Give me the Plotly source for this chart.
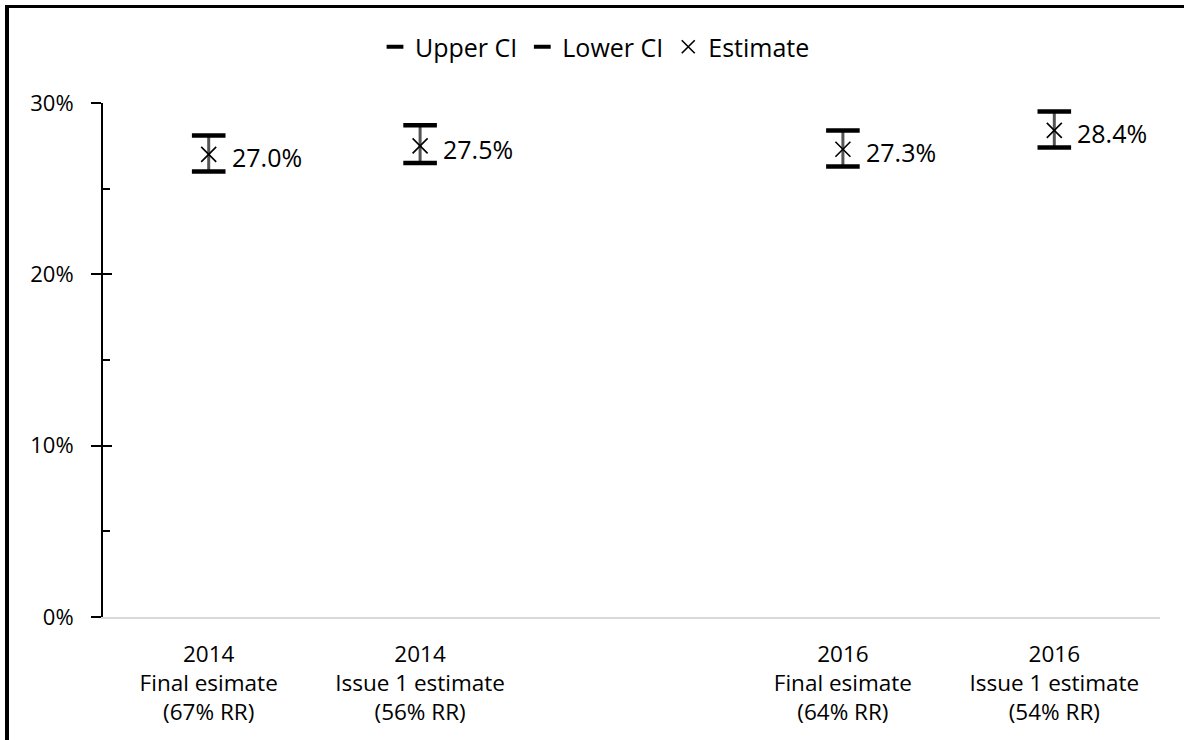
import plotly.graph_objects as go

# Survey estimates with 95% confidence intervals (percent)
categories = [
    "2014<br>Final esimate<br>(67% RR)",
    "2014<br>Issue 1 estimate<br>(56% RR)",
    "",
    "2016<br>Final esimate<br>(64% RR)",
    "2016<br>Issue 1 estimate<br>(54% RR)",
]
estimate = [27.0, 27.5, None, 27.3, 28.4]
upper_ci = [28.1, 28.7, None, 28.4, 29.5]
lower_ci = [26.0, 26.5, None, 26.3, 27.4]

y_ticks = [0, 10, 20, 30]
y_tick_text = ["0%", "10%", "20%", "30%"]

FONT = "Open Sans"
TXT = "#000000"

xpos = list(range(len(categories)))

fig = go.Figure()

# high-low connector lines
hl_x, hl_y = [], []
for x, lo, hi in zip(xpos, lower_ci, upper_ci):
    if lo is None:
        continue
    hl_x += [x, x, None]
    hl_y += [lo, hi, None]
fig.add_trace(go.Scatter(
    x=hl_x, y=hl_y, mode="lines", line=dict(color="#555555", width=3),
    showlegend=False, hoverinfo="skip",
))

cap = dict(symbol="line-ew", size=24, line=dict(color="#000000", width=4.5))
fig.add_trace(go.Scatter(x=xpos, y=upper_ci, mode="markers", name="Upper CI",
                         marker=cap, showlegend=False))
fig.add_trace(go.Scatter(x=xpos, y=lower_ci, mode="markers", name="Lower CI",
                         marker=cap, showlegend=False))
fig.add_trace(go.Scatter(
    x=xpos, y=estimate, mode="markers", name="Estimate", showlegend=False,
    marker=dict(symbol="x-thin", size=15, line=dict(color="#000000", width=1.6)),
))

# legend entries with compact symbols
leg_cap = dict(symbol="line-ew", size=12, line=dict(color="#000000", width=4))
for nm, mk in [("Upper CI", leg_cap), ("Lower CI", leg_cap),
               ("Estimate", dict(symbol="x-thin", size=13,
                                 line=dict(color="#000000", width=1.6)))]:
    fig.add_trace(go.Scatter(x=[None], y=[None], mode="markers", name=nm,
                             marker=mk, hoverinfo="skip"))

# value labels to the right of each estimate
for x, v in zip(xpos, estimate):
    if v is None:
        continue
    fig.add_annotation(
        x=x, y=v, text=f"{v:.1f}%", showarrow=False,
        xanchor="left", yanchor="middle", xshift=21, yshift=-3,
        font=dict(family=FONT, size=25, color=TXT),
    )

W, H = 1184, 740
L, R, T, B = 103, 24, 103, 123
pw, ph = W - L - R, H - T - B


def px_x(px):
    return (px - L) / pw


def px_y(py):
    return (H - B - py) / ph


# frame lines along top and left edges
fig.add_shape(type="line", xref="paper", yref="paper",
              x0=px_x(5), x1=px_x(W), y0=px_y(6.5), y1=px_y(6.5),
              line=dict(color="#000000", width=3))
fig.add_shape(type="line", xref="paper", yref="paper",
              x0=px_x(7), x1=px_x(7), y0=px_y(5), y1=px_y(H),
              line=dict(color="#000000", width=4))

fig.update_layout(
    width=W, height=H,
    margin=dict(l=L, r=R, t=T, b=B),
    paper_bgcolor="white", plot_bgcolor="white",
    font=dict(family=FONT, size=22, color=TXT),
    showlegend=True,
    legend=dict(
        orientation="h", x=px_x(595), xanchor="center",
        y=px_y(47), yanchor="middle",
        font=dict(family=FONT, size=25, color=TXT),
        itemwidth=30, bgcolor="rgba(0,0,0,0)",
    ),
    xaxis=dict(
        range=[-0.5, len(categories) - 0.5],
        tickmode="array", tickvals=xpos, ticktext=categories,
        showgrid=False, zeroline=False,
        showline=True, linecolor="#d9d9d9", linewidth=1.5,
        ticks="", ticklabelstandoff=16,
        tickfont=dict(family=FONT, size=22.5, color=TXT),
    ),
    yaxis=dict(
        range=[0, 30],
        tickmode="array", tickvals=y_ticks, ticktext=y_tick_text,
        showgrid=False, zeroline=False,
        showline=True, linecolor="#000000", linewidth=2,
        ticks="outside", ticklen=10, tickwidth=2, tickcolor="#000000",
        ticklabelstandoff=13,
        minor=dict(tickvals=[5, 15, 25], ticks="inside", ticklen=7,
                   tickwidth=2, tickcolor="#000000"),
        tickfont=dict(family=FONT, size=22, color=TXT),
    ),
    yaxis2=dict(
        range=[0, 30], overlaying="y", side="left", anchor="x",
        tickmode="array", tickvals=y_ticks, showticklabels=False,
        showgrid=False, zeroline=False, showline=False,
        ticks="inside", ticklen=9, tickwidth=2, tickcolor="#000000",
    ),
)

# invisible trace to activate the inner tick axis
fig.add_trace(go.Scatter(x=[None], y=[None], yaxis="y2", showlegend=False,
                         hoverinfo="skip"))

fig.write_html("out.html")
